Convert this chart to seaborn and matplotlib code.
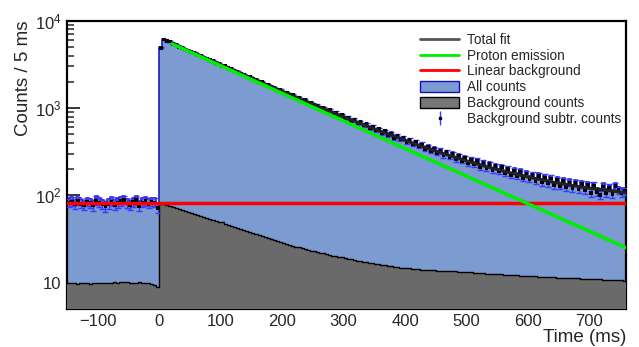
import numpy as np
import pandas as pd
import matplotlib
matplotlib.use("Agg")
import matplotlib.pyplot as plt
import seaborn as sns
from matplotlib.lines import Line2D
from matplotlib.patches import Patch
from matplotlib.ticker import FixedLocator, FixedFormatter, MultipleLocator, LogLocator, NullFormatter

sns.set_style("ticks")
plt.rcParams['font.family'] = ['Liberation Sans', 'DejaVu Sans']
plt.rcParams['mathtext.fontset'] = 'custom'
plt.rcParams['mathtext.rm'] = 'Liberation Sans'

# ---------------- data (5 ms bins from -150 to 760 ms) ----------------
bin_start = -150
bin_width = 5

# All counts: 30 bins before 0, 152 bins after 0
all_pre = [92, 95, 88, 96, 90, 87, 94, 91, 86, 97, 93, 89, 84, 90, 95, 88, 92, 96, 99, 91,
           87, 94, 98, 85, 93, 96, 90, 94, 92, 80]
all_post = [5000, 6200, 5900, 5850,
            5510, 5360, 5120, 4990, 4760, 4650, 4430, 4350, 4130, 4040,
            3850, 3770, 3580, 3510, 3330, 3270, 3110, 3060, 2900, 2850,
            2700, 2660, 2520, 2470, 2340, 2300, 2190, 2160, 2040, 2010,
            1900, 1880, 1770, 1750, 1660, 1640, 1540, 1530, 1440, 1430,
            1350, 1340, 1250, 1260, 1170, 1170, 1100, 1095, 1025, 1030,
            960, 965, 900, 905, 840, 850, 785, 800, 735, 755,
            690, 705, 650, 668, 605, 628, 570, 590, 535, 560,
            505, 525, 470, 495, 450, 468, 425, 445, 400, 420,
            378, 398, 356, 375, 338, 356, 320, 340, 300, 325,
            290, 310, 272, 296, 262, 282, 248, 270, 238, 262,
            225, 248, 218, 240, 208, 228, 200, 222, 192, 212,
            182, 205, 178, 198, 170, 190, 165, 182, 158, 178,
            152, 172, 150, 168, 142, 162, 140, 158, 135, 152,
            132, 150, 128, 146, 125, 143, 118, 140, 120, 112,
            137, 118, 133, 114, 138, 125, 117, 122]

# Background counts
bkg_pre = [9.8, 9.9, 9.8, 9.7, 9.8, 9.9, 9.8, 9.7, 9.8, 9.9, 10.0, 9.9, 9.8, 9.9, 10.0,
           10.1, 10.0, 10.1, 10.2, 10.1, 10.0, 9.9, 10.0, 10.1, 10.0, 9.9, 9.8, 9.7, 9.4, 9.0]
bkg_post = [80, 78.5, 76.5, 74.5, 73, 71, 69.5, 67.5, 66, 64.5,
            63, 61.5, 60, 58.5, 57, 55.5, 54, 52.5, 51, 50,
            49, 47.5, 46, 45, 43.5, 42.5, 41, 40, 39, 38,
            37, 36, 35, 34, 33, 32, 31.2, 30.4, 29.6, 28.8,
            28.2, 27.6, 27, 26.4, 25.8, 25.3, 24.8, 24.3, 23.8, 23.3,
            22.9, 22.5, 22.0, 21.6, 21.2, 20.8, 20.4, 20.0, 19.7, 19.4,
            19.1, 18.8, 18.5, 18.2, 17.9, 17.6, 17.3, 17.0, 16.8, 16.6,
            16.4, 16.2, 16.0, 15.8, 15.6, 15.4, 15.2, 15.0, 14.8, 14.7,
            14.6, 14.5, 14.4, 14.3, 14.2, 14.1, 14.0, 13.9, 13.9, 13.8,
            13.7, 13.7, 13.6, 13.6, 13.5, 13.4, 13.4, 13.3, 13.3, 13.2,
            13.1, 13.1, 13.0, 12.9, 12.9, 12.8, 12.7, 12.7, 12.6, 12.5,
            12.5, 12.4, 12.3, 12.3, 12.2, 12.2, 12.1, 12.0, 12.0, 11.9,
            11.9, 11.8, 11.8, 11.7, 11.7, 11.6, 11.6, 11.5, 11.5, 11.4,
            11.4, 11.4, 11.3, 11.3, 11.2, 11.2, 11.2, 11.1, 11.1, 11.0,
            11.0, 11.0, 10.9, 10.9, 10.8, 10.8, 10.8, 10.7, 10.7, 10.6, 10.6, 10.5]

# Fit curves
fit_x = [20, 40, 60, 80, 100, 120, 140, 160, 180, 200, 220, 240, 260, 280, 300, 320, 340, 360,
         380, 400, 420, 440, 460, 480, 500, 520, 540, 560, 580, 600, 620, 640, 660, 680, 700,
         720, 740, 760]
total_fit = [5555, 4814, 4173, 3619, 3140, 2726, 2368, 2058, 1791, 1559, 1359, 1186, 1036, 907,
             795, 699, 615, 543, 481, 427, 380, 340, 305, 275, 248, 226, 206, 190, 175, 162,
             152, 142, 134, 127, 121, 116, 111, 107]
proton_x = [21, 760]
proton_y = [5430, 25]
linbkg_x = [-150, 760]
linbkg_y = [82, 82]

# ---------------- build table ----------------
all_counts = np.array(all_pre + all_post, dtype=float)
bkg_counts = np.array(bkg_pre + bkg_post, dtype=float)
nb = len(all_counts)
edges = bin_start + bin_width * np.arange(nb + 1)
centers = edges[:-1] + bin_width / 2
df = pd.DataFrame({"t": centers, "all": all_counts, "bkg": bkg_counts})
df["sub"] = df["all"] - df["bkg"]
df["err"] = np.sqrt(df["all"])
brange = (float(edges[0]), float(edges[-1]))

# ---------------- figure ----------------
fig = plt.figure(figsize=(6.39, 3.47), dpi=100)
ax = fig.add_axes([0.105, 0.11, 0.875, 0.83])

blue_fill = "#7b9bd1"
blue_edge = "#1010c0"
gray_fill = "#6a6a6a"

hist_kw = dict(data=df, x="t", binwidth=bin_width, binrange=brange, element="step", ax=ax)
sns.histplot(weights="all", fill=True, color=blue_fill, alpha=1, linewidth=0, zorder=1, **hist_kw)
sns.histplot(weights="all", fill=False, color=blue_edge, linewidth=1.1, zorder=2, **hist_kw)
sns.histplot(weights="bkg", fill=True, color=gray_fill, alpha=1, linewidth=0, zorder=3, **hist_kw)
sns.histplot(weights="bkg", fill=False, color="black", linewidth=1.0, zorder=4, **hist_kw)
ax.set_yscale("log")

ax.errorbar(df["t"], df["sub"], yerr=df["err"], fmt="none", ecolor="#3a3aff",
            elinewidth=1.0, capsize=2, capthick=1.0, zorder=5)
sns.scatterplot(data=df, x="t", y="sub", marker="s", s=7, color="black",
                edgecolor="none", ax=ax, zorder=6)

sns.lineplot(x=fit_x, y=total_fit, color="#222222", linewidth=2.2, ax=ax, zorder=7)
sns.lineplot(x=linbkg_x, y=linbkg_y, color="#ff0000", linewidth=2.5, ax=ax, zorder=8)
sns.lineplot(x=proton_x, y=proton_y, color="#00ee00", linewidth=2.5, ax=ax, zorder=9)

ax.set_xlim(-150, 760)
ax.set_ylim(5, 1e4)

ax.yaxis.set_major_locator(FixedLocator([10, 100, 1000, 10000]))
ax.yaxis.set_major_formatter(FixedFormatter(["10", r"$\mathregular{10^{2}}$",
                                             r"$\mathregular{10^{3}}$", r"$\mathregular{10^{4}}$"]))
ax.yaxis.set_minor_locator(LogLocator(base=10, subs=np.arange(2, 10)))
ax.yaxis.set_minor_formatter(NullFormatter())
ax.xaxis.set_major_locator(MultipleLocator(100))
ax.xaxis.set_minor_locator(MultipleLocator(20))

ax.tick_params(axis="both", which="major", direction="in", length=9, width=1.3,
               labelsize=12, top=False, right=False, pad=4)
ax.tick_params(axis="both", which="minor", direction="in", length=5, width=1.1,
               top=False, right=False)
for sp in ax.spines.values():
    sp.set_linewidth(1.6)
    sp.set_color("black")

ax.set_xlabel("Time (ms)", fontsize=13.5, loc="right", labelpad=0)
ax.set_ylabel("Counts / 5 ms", fontsize=13.5, loc="top", labelpad=2)

handles = [
    Line2D([], [], color="#555555", lw=2),
    Line2D([], [], color="#00ee00", lw=2),
    Line2D([], [], color="#ff0000", lw=2),
    Patch(facecolor=blue_fill, edgecolor=blue_edge, lw=1),
    Patch(facecolor="#777777", edgecolor="black", lw=1),
    ax.errorbar([], [], yerr=[], fmt="s", color="black", ms=2, ecolor="#3a3aff",
                capsize=2, elinewidth=1),
]
labels = ["Total fit", "Proton emission", "Linear background", "All counts",
          "Background counts", "Background subtr. counts"]
leg = ax.legend(handles, labels, loc="upper left", bbox_to_anchor=(0.657, 0.906),
                bbox_transform=fig.transFigure, frameon=False, fontsize=9.8,
                handlelength=2.9, handleheight=0.8, labelspacing=0.14,
                borderaxespad=0, borderpad=0, handletextpad=0.6)

fig.savefig("out.png", dpi=100)
